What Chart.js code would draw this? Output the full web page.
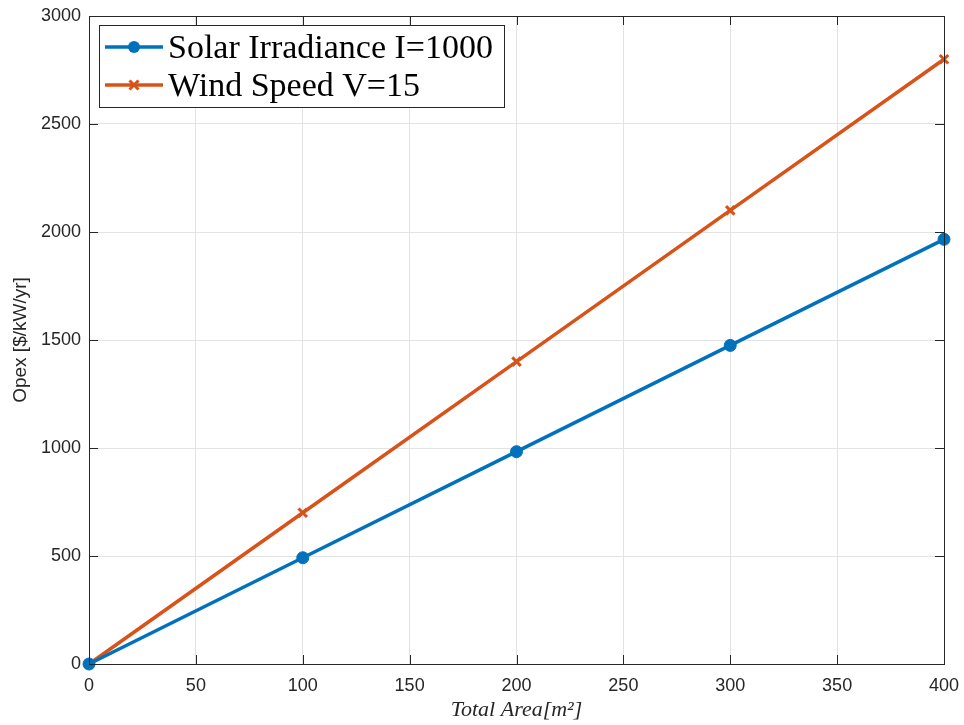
<!DOCTYPE html>
<html>
<head>
<meta charset="utf-8">
<script src="https://cdn.jsdelivr.net/npm/chart.js@4.4.0/dist/chart.umd.min.js"></script>
<style>
  html, body { margin: 0; padding: 0; background: #fff; }
  #wrap { width: 964px; height: 725px; }
</style>
</head>
<body>
<div id="wrap"><canvas id="myChart" width="964" height="725"></canvas></div>
<script>
// datos de la grafica
var areas = [0, 100, 200, 300, 400];
var solarOpex = [0, 492, 983, 1475, 1966];
var windOpex = [0, 700, 1400, 2100, 2800];
var xTicks = [0, 50, 100, 150, 200, 250, 300, 350, 400];
var yTicks = [0, 500, 1000, 1500, 2000, 2500, 3000];
var seriesLabels = ['Solar Irradiance I=1000', 'Wind Speed V=15'];

var blue = '#0072BD';
var orange = '#D95319';

function toPoints(xs, ys) {
    return xs.map(function (x, i) { return { x: x, y: ys[i] }; });
}

// caja, marcas interiores y leyenda estilo MATLAB
var boxPlugin = {
    id: 'boxPlugin',
    afterDraw: function (chart) {
        var c = chart.ctx;
        var a = chart.chartArea;
        var xs = chart.scales.x, ys = chart.scales.y;
        var tl = 9;
        c.save();
        c.lineWidth = 1;
        c.strokeStyle = '#262626';
        c.beginPath();
        // marcas
        xTicks.forEach(function (v) {
            var px = Math.round(xs.getPixelForValue(v)) + 0.5;
            c.moveTo(px, a.bottom); c.lineTo(px, a.bottom - tl);
            c.moveTo(px, a.top); c.lineTo(px, a.top + tl);
        });
        yTicks.forEach(function (v) {
            var py = Math.round(ys.getPixelForValue(v)) + 0.5;
            c.moveTo(a.left, py); c.lineTo(a.left + tl, py);
            c.moveTo(a.right, py); c.lineTo(a.right - tl, py);
        });
        c.stroke();
        c.strokeRect(Math.round(a.left) + 0.5, Math.round(a.top) + 0.5,
            Math.round(a.right - a.left), Math.round(a.bottom - a.top));

        // leyenda
        var lx = a.left + 10, ly = a.top + 9, lw = 405, lh = 82;
        c.fillStyle = '#fff';
        c.fillRect(lx, ly, lw, lh);
        c.strokeStyle = '#262626';
        c.strokeRect(lx + 0.5, ly + 0.5, lw, lh);
        c.font = '34px "Liberation Serif"';
        c.textBaseline = 'middle';
        chart.data.datasets.forEach(function (ds, i) {
            var y = ly + 22 + i * 38;
            c.strokeStyle = ds.borderColor;
            c.lineWidth = 3.5;
            c.beginPath();
            c.moveTo(lx + 6, y); c.lineTo(lx + 64, y);
            c.stroke();
            var mx = lx + 35;
            if (i === 0) {
                c.fillStyle = ds.borderColor;
                c.beginPath(); c.arc(mx, y, 6, 0, Math.PI * 2); c.fill();
            } else {
                c.lineWidth = 3;
                c.beginPath();
                c.moveTo(mx - 4.5, y - 4.5); c.lineTo(mx + 4.5, y + 4.5);
                c.moveTo(mx - 4.5, y + 4.5); c.lineTo(mx + 4.5, y - 4.5);
                c.stroke();
            }
            c.fillStyle = '#000';
            c.fillText(ds.label, lx + 69, y + 2);
        });
        c.restore();
    }
};

var ctx = document.getElementById('myChart').getContext('2d');
var myChart = new Chart(ctx, {
    type: 'line',
    data: {
        datasets: [{
            label: seriesLabels[0],
            data: toPoints(areas, solarOpex),
            borderColor: blue,
            backgroundColor: blue,
            borderWidth: 3.5,
            pointStyle: 'circle',
            pointRadius: 6,
            pointBorderWidth: 1,
            fill: false,
            clip: false
        }, {
            label: seriesLabels[1],
            data: toPoints(areas, windOpex),
            borderColor: orange,
            backgroundColor: orange,
            borderWidth: 3.5,
            pointStyle: 'crossRot',
            pointRadius: 6,
            pointBorderWidth: 3,
            fill: false,
            clip: false
        }]
    },
    options: {
        responsive: false,
        animation: false,
        layout: { padding: { left: 0, right: 20, top: 16, bottom: 0 } },
        plugins: { legend: { display: false }, tooltip: { enabled: false } },
        scales: {
            x: {
                type: 'linear',
                min: 0, max: 400,
                afterBuildTicks: function (s) { s.ticks = xTicks.map(function (v) { return { value: v }; }); },
                afterFit: function (s) { s.height = 61; s.paddingLeft = 0; s.paddingRight = 0; },
                grid: { color: '#e3e3e3', drawTicks: false },
                border: { display: false },
                ticks: {
                    color: '#262626', padding: 11, maxRotation: 0,
                    font: { family: 'Liberation Sans', size: 18 },
                    callback: function (v) { return String(v); }
                },
                title: {
                    display: true,
                    text: 'Total Area[m²]',
                    color: '#262626',
                    font: { family: 'Liberation Serif', size: 22, style: 'italic' },
                    padding: { top: 0, bottom: 2 }
                }
            },
            y: {
                min: 0, max: 3000,
                afterBuildTicks: function (s) { s.ticks = yTicks.map(function (v) { return { value: v }; }); },
                afterFit: function (s) { s.width = 89; s.paddingTop = 0; s.paddingBottom = 0; },
                grid: { color: '#e3e3e3', drawTicks: false },
                border: { display: false },
                ticks: {
                    color: '#262626', padding: 8,
                    font: { family: 'Liberation Sans', size: 18 },
                    callback: function (v) { return String(v); }
                },
                title: {
                    display: true,
                    text: 'Opex [$/kW/yr]',
                    color: '#262626',
                    font: { family: 'Liberation Sans', size: 19 },
                    padding: { top: 9, bottom: 0 }
                }
            }
        }
    },
    plugins: [boxPlugin]
});
</script>
</body>
</html>
